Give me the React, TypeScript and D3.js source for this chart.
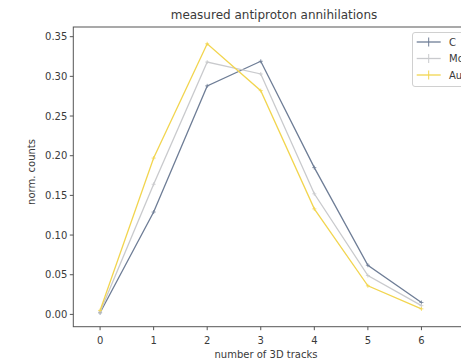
import React from "react";
import * as d3 from "d3";

const tracks = [0, 1, 2, 3, 4, 5, 6];
const seriesNames = ["C", "Mo", "Au"];
const cValues = [0.002, 0.129, 0.288, 0.319, 0.185, 0.062, 0.015];
const moValues = [0.003, 0.164, 0.318, 0.303, 0.152, 0.049, 0.011];
const auValues = [0.005, 0.197, 0.341, 0.282, 0.133, 0.036, 0.007];
const seriesColors = ["#6e7d96", "#c9cacd", "#f2d54f"];
const yTicks = [0, 0.05, 0.1, 0.15, 0.2, 0.25, 0.3, 0.35];

const W = 461;
const H = 362;
const left = 73.3;
const right = 475;
const top = 27;
const bottom = 326.7;

export default function App() {
  const x = d3.scaleLinear().domain([-0.5, 7]).range([left, right]);
  const y = d3.scaleLinear().domain([-0.0155, 0.3622]).range([bottom, top]);
  const all = [cValues, moValues, auValues];
  const line = d3
    .line<number>()
    .x((_, i) => x(tracks[i]))
    .y((d) => y(d));
  const font = "DejaVu Sans, sans-serif";
  const textColor = "#3a3a3a";
  const axisColor = "#555";
  return (
    <svg
      width={W}
      height={H}
      style={{ position: "absolute", left: 0, top: 0, background: "#fff" }}
      fontFamily={font}
    >
      <rect x={0} y={0} width={W} height={H} fill="#fff" />
      <text x={274} y={19} textAnchor="middle" fontSize={12} fill={textColor}>
        measured antiproton annihilations
      </text>
      <rect
        x={left}
        y={top}
        width={right - left}
        height={bottom - top}
        fill="none"
        stroke={axisColor}
        strokeWidth={1}
      />
      {yTicks.map((t) => (
        <g key={t}>
          <line x1={left - 3.5} x2={left} y1={y(t)} y2={y(t)} stroke={axisColor} />
          <text
            x={left - 6}
            y={y(t)}
            dy="0.35em"
            textAnchor="end"
            fontSize={10}
            fill={textColor}
          >
            {t.toFixed(2)}
          </text>
        </g>
      ))}
      {tracks.map((t) => (
        <g key={t}>
          <line x1={x(t)} x2={x(t)} y1={bottom} y2={bottom + 3.5} stroke={axisColor} />
          <text
            x={x(t)}
            y={bottom + 14}
            dy="0.35em"
            textAnchor="middle"
            fontSize={10}
            fill={textColor}
          >
            {t}
          </text>
        </g>
      ))}
      <text x={266} y={358} textAnchor="middle" fontSize={10} fill={textColor}>
        number of 3D tracks
      </text>
      <text
        transform={`translate(35,172) rotate(-90)`}
        textAnchor="middle"
        fontSize={10}
        fill={textColor}
      >
        norm. counts
      </text>
      {all.map((vals, si) => (
        <g key={si}>
          <path
            d={line(vals) || ""}
            fill="none"
            stroke={seriesColors[si]}
            strokeWidth={1.3}
          />
          {vals.map((v, i) => (
            <g key={i} stroke={seriesColors[si]} strokeWidth={0.8}>
              <line x1={x(tracks[i]) - 2} x2={x(tracks[i]) + 2} y1={y(v)} y2={y(v)} />
              <line x1={x(tracks[i])} x2={x(tracks[i])} y1={y(v) - 2} y2={y(v) + 2} />
            </g>
          ))}
        </g>
      ))}
      <rect
        x={412.5}
        y={32.5}
        width={80}
        height={54}
        rx={2.5}
        fill="#fff"
        fillOpacity={0.85}
        stroke="#d0d0d0"
      />
      {seriesNames.map((n, i) => {
        const ly = 42 + i * 16.5;
        return (
          <g key={n}>
            <line x1={416.7} x2={440.7} y1={ly} y2={ly} stroke={seriesColors[i]} strokeWidth={1.3} />
            <line x1={428.7} x2={428.7} y1={ly - 4.5} y2={ly + 4.5} stroke={seriesColors[i]} strokeWidth={1} />
            <text x={449} y={ly} dy="0.35em" fontSize={10} fill={textColor}>
              {n}
            </text>
          </g>
        );
      })}
    </svg>
  );
}
